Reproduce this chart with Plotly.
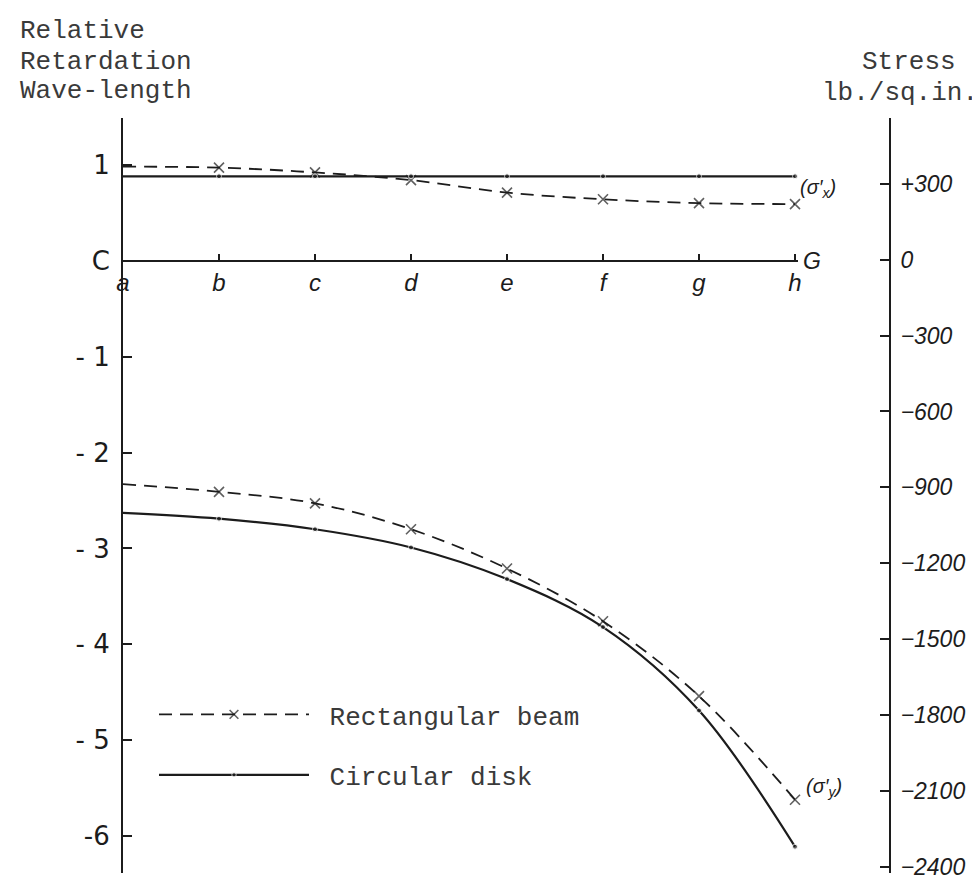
import plotly.graph_objects as go

# ---------------- data ----------------
points = ["a", "b", "c", "d", "e", "f", "g", "h"]
rect_sigma_x = [0.98, 0.97, 0.92, 0.84, 0.71, 0.64, 0.60, 0.59]
disk_sigma_x = [0.88, 0.88, 0.88, 0.88, 0.88, 0.88, 0.88, 0.88]
rect_sigma_y = [-2.33, -2.41, -2.53, -2.80, -3.21, -3.76, -4.54, -5.62]
disk_sigma_y = [-2.63, -2.69, -2.80, -2.99, -3.32, -3.82, -4.69, -6.11]

retard_ticks = [1, 0, -1, -2, -3, -4, -5, -6]
retard_labels = ["1", "C", "- 1", "- 2", "- 3", "- 4", "- 5", "-6"]
stress_ticks = [300, 0, -300, -600, -900, -1200, -1500, -1800, -2100, -2400]
stress_labels = ["+300", "0", "−300", "−600", "−900", "−1200", "−1500",
                 "−1800", "−2100", "−2400"]

# ---------------- geometry ----------------
W, H = 980, 878
L, R, T, B = 115, 98, 110, 6
pw = W - L - R
ph = H - T - B


def px(x):
    return (x - L) / pw


def py(y):
    return (H - B - y) / ph


ZERO_L, UNIT_L = 254, 96.8      # left axis: pixel of 0, pixels per unit
ZERO_R, UNIT_R = 253, 76.6      # right axis: pixel of 0, pixels per 300 psi
STEP_X = 96.0
X_END = 790

xi = list(range(len(points)))
ink = "#1c1c1c"
type_ink = "#3a3a3a"
mono = "Liberation Mono"
hand = "Liberation Sans"
TYPE_SIZE = 26

msize_x = [0] + [10] * (len(points) - 1)
msize_d = [0] + [5] * (len(points) - 1)

fig = go.Figure()
fig.add_trace(go.Scatter(
    x=xi, y=rect_sigma_x, mode="lines+markers", line_shape="spline",
    line=dict(color=ink, width=1.8, dash="13px,8px"),
    marker=dict(symbol="x-thin-open", size=msize_x, color=ink,
                line=dict(color=ink, width=1.6)),
    showlegend=False, cliponaxis=False, hoverinfo="skip"))
fig.add_trace(go.Scatter(
    x=xi, y=disk_sigma_x, mode="lines+markers", line_shape="spline",
    line=dict(color=ink, width=2.2),
    marker=dict(symbol="circle", size=msize_d, color=ink),
    showlegend=False, cliponaxis=False, hoverinfo="skip"))
fig.add_trace(go.Scatter(
    x=xi, y=rect_sigma_y, mode="lines+markers", line_shape="spline",
    name=" Rectangular beam", legend="legend",
    line=dict(color=ink, width=1.8, dash="13px,8px"),
    marker=dict(symbol="x-thin-open", size=msize_x, color=ink,
                line=dict(color=ink, width=1.6)),
    cliponaxis=False))
fig.add_trace(go.Scatter(
    x=xi, y=disk_sigma_y, mode="lines+markers", line_shape="spline",
    name=" Circular disk", legend="legend2",
    line=dict(color=ink, width=2.2),
    marker=dict(symbol="circle", size=msize_d, color=ink),
    cliponaxis=False))
# invisible trace that carries the stress (right-hand) axis
fig.add_trace(go.Scatter(
    x=[0] * len(stress_ticks), y=stress_ticks, yaxis="y2",
    mode="markers", marker=dict(opacity=0, size=1),
    showlegend=False, hoverinfo="skip"))

left_range = [-(H - B - ZERO_L) / UNIT_L, (ZERO_L - T) / UNIT_L]
right_range = [-(H - B - ZERO_R) / UNIT_R * 300, (ZERO_R - T) / UNIT_R * 300]

fig.update_layout(
    width=W, height=H, autosize=False,
    margin=dict(l=L, r=R, t=T, b=B, pad=0),
    paper_bgcolor="white", plot_bgcolor="white",
    xaxis=dict(
        domain=[0, px(X_END)], range=[0, (X_END - L) / STEP_X],
        anchor="free", position=py(ZERO_L),
        tickvals=xi, ticktext=points, ticks="inside", ticklen=6,
        tickcolor=ink, tickwidth=1.5,
        showline=True, linecolor=ink, linewidth=2,
        showgrid=False, zeroline=False,
        tickfont=dict(family=hand, size=24, color=ink, style="italic"),
        ticklabelstandoff=1),
    yaxis=dict(
        range=left_range, anchor="x",
        tickvals=retard_ticks, ticktext=retard_labels,
        ticks="inside", ticklen=9, tickcolor=ink, tickwidth=1.5,
        showline=True, linecolor=ink, linewidth=2,
        showgrid=False, zeroline=False,
        tickfont=dict(family="DejaVu Sans", size=26, color=ink),
        ticklabelstandoff=6),
    yaxis2=dict(
        range=right_range, overlaying="y", side="right",
        anchor="free", position=1.0,
        tickvals=stress_ticks, ticktext=stress_labels,
        ticks="inside", ticklen=9, tickcolor=ink, tickwidth=1.5,
        showline=True, linecolor=ink, linewidth=2,
        showgrid=False, zeroline=False, ticklabeloverflow="allow",
        tickfont=dict(family=hand, size=23, color=ink, style="italic"),
        ticklabelstandoff=5),
    legend=dict(x=px(146), y=py(712), xanchor="left", yanchor="middle",
                bgcolor="rgba(0,0,0,0)", itemwidth=150,
                font=dict(family=mono, size=TYPE_SIZE, color=type_ink)),
    legend2=dict(x=px(146), y=py(773), xanchor="left", yanchor="middle",
                 bgcolor="rgba(0,0,0,0)", itemwidth=150,
                 font=dict(family=mono, size=TYPE_SIZE, color=type_ink)),
    showlegend=True,
)

# typewritten axis captions, one annotation per line
for txt, xx, yy in [("Relative", 10, 22), ("Retardation", 10, 53),
                    ("Wave-length", 10, 83), ("Stress", 852, 53),
                    ("lb./sq.in.", 812, 85)]:
    fig.add_annotation(text=txt, xref="paper", yref="paper",
                       x=px(xx), y=py(yy), xanchor="left", yanchor="middle",
                       showarrow=False,
                       font=dict(family=mono, size=TYPE_SIZE, color=type_ink))

fig.add_annotation(text="(σ′<sub>x</sub>)", xref="paper", yref="paper",
                   x=px(830), y=py(167), showarrow=False,
                   font=dict(family=hand, size=20, color=ink, style="italic"))
fig.add_annotation(text="(σ′<sub>y</sub>)", xref="paper", yref="paper",
                   x=px(836), y=py(800), showarrow=False,
                   font=dict(family=hand, size=20, color=ink, style="italic"))
fig.add_annotation(text="G", xref="paper", yref="paper",
                   x=px(815), y=py(239), showarrow=False,
                   font=dict(family=hand, size=23, color=ink, style="italic"))

fig.write_html("out.html")
